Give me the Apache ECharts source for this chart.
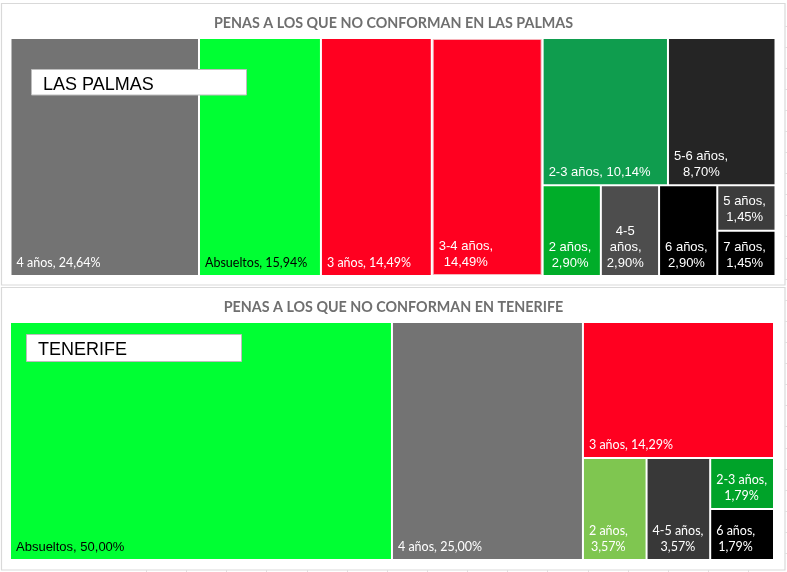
<!DOCTYPE html>
<html>
<head>
<meta charset="utf-8">
<script src="https://cdn.jsdelivr.net/npm/echarts@6/dist/echarts.min.js"></script>
<style>
html,body{margin:0;padding:0;background:#fff;}
#chart{width:787px;height:572px;}
</style>
</head>
<body>
<div id="chart"></div>
<script>
// ---------- DATA ----------
const titleTop = 'PENAS A LOS QUE NO CONFORMAN EN LAS PALMAS';
const titleBottom = 'PENAS A LOS QUE NO CONFORMAN EN TENERIFE';
const boxTop = 'LAS PALMAS';
const boxBottom = 'TENERIFE';

const lpNames  = ['4 años','Absueltos','3 años','3-4 años','2-3 años','5-6 años','2 años','4-5 años','6 años','5 años','7 años'];
const lpValues = [24.64, 15.94, 14.49, 14.49, 10.14, 8.70, 2.90, 2.90, 2.90, 1.45, 1.45];
const lpColors = ['#737373','#00ff33','#ff0020','#ff0020','#0f9d4e','#252525','#00ad29','#4d4d4d','#000000','#3c3c3c','#000000'];

const tfNames  = ['Absueltos','4 años','3 años','2 años','4-5 años','2-3 años','6 años'];
const tfValues = [50.00, 25.00, 14.29, 3.57, 3.57, 1.79, 1.79];
const tfColors = ['#00ff33','#737373','#ff0020','#7fc650','#383838','#00a329','#000000'];

// label style per cell: font ('c' calibri-like / 'a' arial-like), line break mode, text colour
const lpFonts  = ['c','c','c','a','a','a','a','a','a','a','a'];
const lpBreaks = [0,0,0,1,0,1,1,2,1,1,1];
const lpText   = ['#fff','#000','#fff','#fff','#fff','#fff','#fff','#fff','#fff','#fff','#fff'];
const tfFonts  = ['a','c','c','c','c','c','c'];
const tfBreaks = [0,0,0,1,1,1,1];
const tfText   = ['#000','#fff','#fff','#fff','#fff','#fff','#fff'];

// nesting that reproduces the Excel layout
const lpNest = [0,[1,[2,[3,[[4,5],[6,[7,[8,[9,10]]]]]]]]];
const tfNest = [0,[1,[2,[3,[4,[5,6]]]]]];

// ---------- BUILD ----------
const CAL = 'Lato, "Open Sans", sans-serif';
const ARI = '"Liberation Sans", Arial, sans-serif';
const LH = 16;
const ctx = document.createElement('canvas').getContext('2d');
function measure(t, font){ ctx.font = font; return ctx.measureText(t).width; }
function fmt(v){ return v.toFixed(2).replace('.', ',') + '%'; }

function makeLeaf(names, values, colors, fonts, breaks, tcols){
  return function(i){
    let lines;
    if (breaks[i] === 0) lines = [names[i] + ', ' + fmt(values[i])];
    else if (breaks[i] === 1) lines = [names[i] + ',', fmt(values[i])];
    else { const p = names[i].split(' '); lines = [p[0], p.slice(1).join(' ') + ',', fmt(values[i])]; }
    const fam = fonts[i] === 'a' ? ARI : CAL;
    const size = fonts[i] === 'a' ? 13 : 12.5;
    const font = size + 'px ' + fam;
    const widths = lines.map(l => measure(l, font));
    const w = Math.max.apply(null, widths);
    const rich = {};
    lines.forEach((l, k) => {
      rich['l' + k] = { fontFamily: fam, fontSize: size, lineHeight: LH, color: tcols[i],
                        padding: [0, 0, 0, Math.round((w - widths[k]) / 2)] };
    });
    return {
      name: names[i],
      value: values[i],
      itemStyle: { color: colors[i] },
      label: {
        show: true,
        position: 'insideBottomLeft',
        distance: 5,
        padding: 0,
        formatter: lines.map((l, k) => '{l' + k + '|' + l + '}').join('\n'),
        rich: rich
      }
    };
  };
}
function build(spec, mk){
  if (typeof spec === 'number') return mk(spec);
  const ch = spec.map(s => build(s, mk));
  return { name: '', value: ch.reduce((a, c) => a + c.value, 0), children: ch,
           itemStyle: { color: '#fff', borderColor: '#fff' }, label: { show: false } };
}

const lpData = build(lpNest, makeLeaf(lpNames, lpValues, lpColors, lpFonts, lpBreaks, lpText)).children;
const tfData = build(tfNest, makeLeaf(tfNames, tfValues, tfColors, tfFonts, tfBreaks, tfText)).children;
// pale outline on 3-4 años as in the original
(function mark(nodes){ nodes.forEach(n => { if (n.children) mark(n.children); else if (n.name === '3-4 años') { n.itemStyle.borderWidth = 1; n.itemStyle.borderColor = '#f7b3ba'; } }); })(lpData);

// place each label at the bottom-left of its own cell
function labelAtBottomLeft(p){
  const n = String(p.text).split('\n').length;
  return { x: p.rect.x + 5, y: p.rect.y + p.rect.height - 4 - n * LH, align: 'left', verticalAlign: 'top' };
}

function treemap(data, top, left, width){
  return {
    type: 'treemap',
    left: left, top: top, width: width, height: 236,
    squareRatio: 1,
    sort: false,
    roam: false,
    nodeClick: false,
    breadcrumb: { show: false },
    animation: false,
    itemStyle: { borderWidth: 0, gapWidth: 2, borderColor: '#fff' },
    upperLabel: { show: false },
    emphasis: { disabled: true },
    labelLayout: labelAtBottomLeft,
    data: data
  };
}

// decorations: chart frames, text boxes, sheet grid ticks
const graphics = [
  { type: 'rect', shape: { x: 1.5, y: 3.5, width: 783.5, height: 281.5 }, style: { fill: 'none', stroke: '#d9d9d9', lineWidth: 1.2 }, z: 0 },
  { type: 'rect', shape: { x: 1.5, y: 287.5, width: 783.5, height: 282.5 }, style: { fill: 'none', stroke: '#d9d9d9', lineWidth: 1.2 }, z: 0 },
  { type: 'rect', shape: { x: 31.5, y: 69.5, width: 215, height: 25.5 }, style: { fill: '#fff', stroke: '#bdbdbd', lineWidth: 1 }, z: 100 },
  { type: 'text', x: 43, y: 84.7, style: { text: boxTop, font: '18px "Liberation Sans", Arial, sans-serif', fill: '#000', textVerticalAlign: 'middle' }, z: 101 },
  { type: 'rect', shape: { x: 26.5, y: 334.5, width: 215, height: 27 }, style: { fill: '#fff', stroke: '#bdbdbd', lineWidth: 1 }, z: 100 },
  { type: 'text', x: 38, y: 350.5, style: { text: boxBottom, font: '18px "Liberation Sans", Arial, sans-serif', fill: '#000', textVerticalAlign: 'middle' }, z: 101 }
];
for (let x = 146; x < 787; x += 40.15) {
  graphics.push({ type: 'line', shape: { x1: Math.round(x) + 0.5, y1: 570, x2: Math.round(x) + 0.5, y2: 572 }, style: { stroke: '#e0e0e0', lineWidth: 1 } });
}
for (let y = 25.5; y < 572; y += 21.1) {
  graphics.push({ type: 'line', shape: { x1: 785, y1: Math.round(y) + 0.5, x2: 787, y2: Math.round(y) + 0.5 }, style: { stroke: '#e0e0e0', lineWidth: 1 } });
}

const chart = echarts.init(document.getElementById('chart'));
chart.setOption({
  animation: false,
  backgroundColor: '#fff',
  title: [
    { text: titleTop, left: 'center', top: 14, padding: 0,
      textStyle: { fontFamily: CAL, fontWeight: 'bold', fontSize: 14.3, color: '#6f6f6f', lineHeight: 18 } },
    { text: titleBottom, left: 'center', top: 298, padding: 0,
      textStyle: { fontFamily: CAL, fontWeight: 'bold', fontSize: 14.3, color: '#6f6f6f', lineHeight: 18 } }
  ],
  tooltip: { show: false },
  graphic: graphics,
  series: [
    treemap(lpData, 39, 11.5, 763),
    treemap(tfData, 323, 11, 762)
  ]
});
</script>
</body>
</html>
